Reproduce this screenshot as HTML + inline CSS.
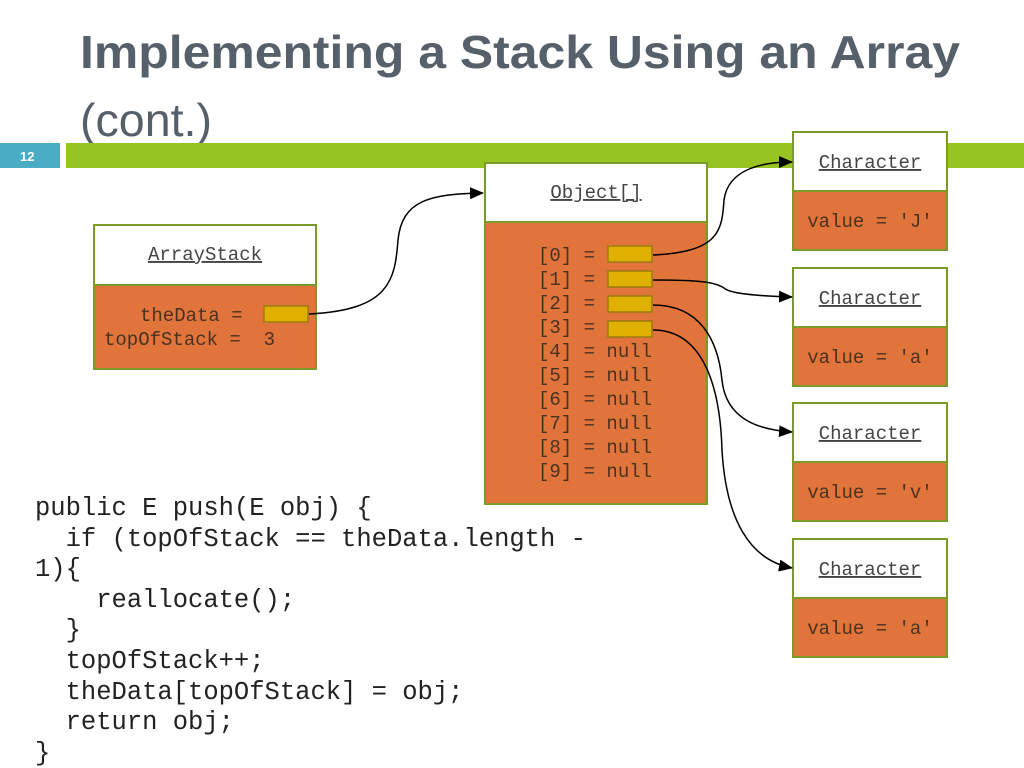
<!DOCTYPE html>
<html><head><meta charset="utf-8"><style>
html,body{margin:0;padding:0;background:#fff;width:1024px;height:768px;overflow:hidden}
svg{display:block}
.m{font-family:"Liberation Mono",monospace;fill:#4a3222}
.h{font-family:"Liberation Mono",monospace;fill:#444;text-decoration:underline}
</style></head><body>
<svg width="1024" height="768" viewBox="0 0 1024 768" xmlns="http://www.w3.org/2000/svg">
<defs><marker id="a" markerWidth="14" markerHeight="12" refX="13" refY="6" orient="auto" markerUnits="userSpaceOnUse"><path d="M0,0 L14,6 L0,12 Z" fill="#000"/></marker></defs>
<text x="80" y="68" font-family="Liberation Sans,sans-serif" font-weight="bold" font-size="46" fill="#56606a" textLength="880" lengthAdjust="spacingAndGlyphs">Implementing a Stack Using an Array</text>
<text x="80" y="136" font-family="Liberation Sans,sans-serif" font-size="46" fill="#56606a" textLength="132" lengthAdjust="spacingAndGlyphs">(cont.)</text>
<rect x="0" y="143" width="60" height="25" fill="#4bacc6"/>
<text x="20" y="161" font-family="Liberation Sans,sans-serif" font-weight="bold" font-size="13" fill="#fff">12</text>
<rect x="66" y="143" width="958" height="25" fill="#97c423"/>

<rect x="94" y="225" width="222" height="60" fill="#fff" stroke="#7a9a2a" stroke-width="2"/>
<rect x="94" y="285" width="222" height="84" fill="#e0743a" stroke="#7a9a2a" stroke-width="2"/>
<text x="205" y="260" text-anchor="middle" class="h" font-size="19">ArrayStack</text>
<text x="140" y="321" class="m" font-size="19">theData =</text>
<text x="104" y="345" class="m" font-size="19" xml:space="preserve">topOfStack =  3</text>
<rect x="264" y="306" width="44" height="16" fill="#e0b000" stroke="#9a7a10" stroke-width="1.5"/>

<rect x="485" y="163" width="222" height="59" fill="#fff" stroke="#7a9a2a" stroke-width="2"/>
<rect x="485" y="222" width="222" height="282" fill="#e0743a" stroke="#7a9a2a" stroke-width="2"/>
<text x="596" y="198" text-anchor="middle" class="h" font-size="19">Object[]</text>
<g class="m" font-size="19">
<text x="538" y="261">[0] =</text>
<text x="538" y="285">[1] =</text>
<text x="538" y="309">[2] =</text>
<text x="538" y="333">[3] =</text>
<text x="538" y="357">[4] = null</text>
<text x="538" y="381">[5] = null</text>
<text x="538" y="405">[6] = null</text>
<text x="538" y="429">[7] = null</text>
<text x="538" y="453">[8] = null</text>
<text x="538" y="477">[9] = null</text>
</g>
<g fill="#e0b000" stroke="#9a7a10" stroke-width="1.5">
<rect x="608" y="246" width="44" height="16"/>
<rect x="608" y="271" width="44" height="16"/>
<rect x="608" y="296" width="44" height="16"/>
<rect x="608" y="321" width="44" height="16"/>
</g>

<g>
<rect x="793" y="132" width="154" height="59" fill="#fff" stroke="#7a9a2a" stroke-width="2"/>
<rect x="793" y="191" width="154" height="59" fill="#e0743a" stroke="#7a9a2a" stroke-width="2"/>
<rect x="793" y="268" width="154" height="59" fill="#fff" stroke="#7a9a2a" stroke-width="2"/>
<rect x="793" y="327" width="154" height="59" fill="#e0743a" stroke="#7a9a2a" stroke-width="2"/>
<rect x="793" y="403" width="154" height="59" fill="#fff" stroke="#7a9a2a" stroke-width="2"/>
<rect x="793" y="462" width="154" height="59" fill="#e0743a" stroke="#7a9a2a" stroke-width="2"/>
<rect x="793" y="539" width="154" height="59" fill="#fff" stroke="#7a9a2a" stroke-width="2"/>
<rect x="793" y="598" width="154" height="59" fill="#e0743a" stroke="#7a9a2a" stroke-width="2"/>
</g>
<g font-size="19">
<text x="870" y="168" text-anchor="middle" class="h">Character</text>
<text x="870" y="304" text-anchor="middle" class="h">Character</text>
<text x="870" y="439" text-anchor="middle" class="h">Character</text>
<text x="870" y="575" text-anchor="middle" class="h">Character</text>
<text x="870" y="227" text-anchor="middle" class="m">value = 'J'</text>
<text x="870" y="363" text-anchor="middle" class="m">value = 'a'</text>
<text x="870" y="498" text-anchor="middle" class="m">value = 'v'</text>
<text x="870" y="634" text-anchor="middle" class="m">value = 'a'</text>
</g>

<g fill="none" stroke="#000" stroke-width="1.5" marker-end="url(#a)">
<path d="M309,314 C390,310 395,280 398,240 C402,200 430,194 483,193"/>
<path d="M653,255 C720,252 722,230 724,200 C728,170 760,162 792,162"/>
<path d="M653,280 C700,280 715,282 724,288 C730,294 760,296 792,297"/>
<path d="M653,305 C700,305 718,340 722,380 C726,420 760,430 792,432"/>
<path d="M653,330 C700,330 720,380 722,450 C726,520 750,560 792,568"/>
</g>

<g font-family="Liberation Mono,monospace" font-size="25.5" fill="#222">
<text x="35" y="515" xml:space="preserve">public E push(E obj) {</text>
<text x="35" y="546" xml:space="preserve">  if (topOfStack == theData.length -</text>
<text x="35" y="576" xml:space="preserve">1){</text>
<text x="35" y="607" xml:space="preserve">    reallocate();</text>
<text x="35" y="637" xml:space="preserve">  }</text>
<text x="35" y="668" xml:space="preserve">  topOfStack++;</text>
<text x="35" y="699" xml:space="preserve">  theData[topOfStack] = obj;</text>
<text x="35" y="729" xml:space="preserve">  return obj;</text>
<text x="35" y="760" xml:space="preserve">}</text>
</g>
</svg>
</body></html>
